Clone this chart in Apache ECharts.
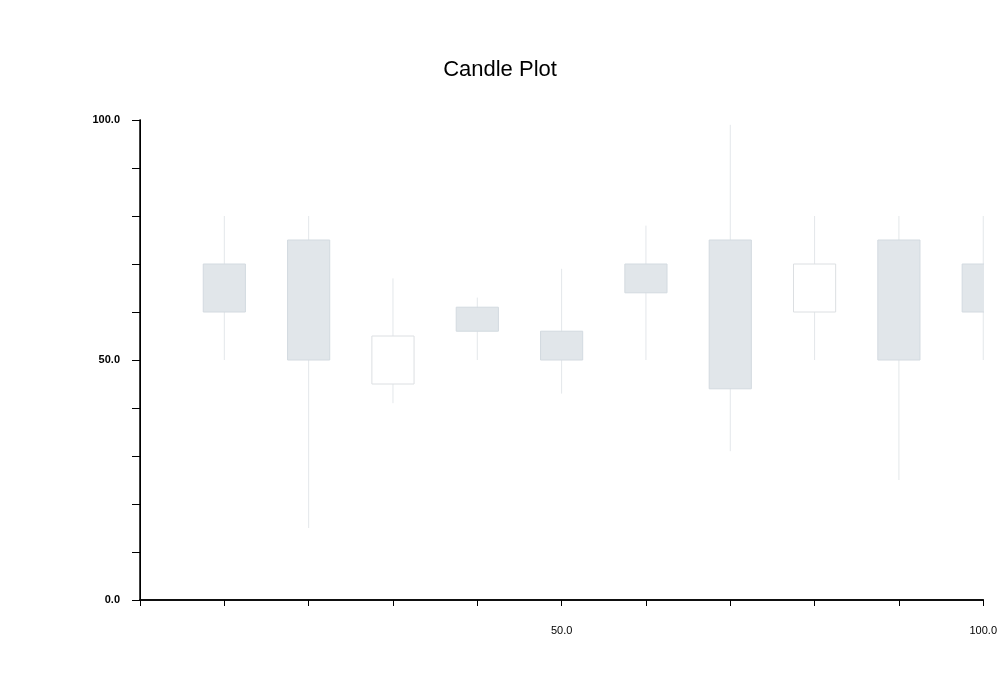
<!DOCTYPE html>
<html>
<head>
<meta charset="utf-8">
<script src="https://cdn.jsdelivr.net/npm/echarts@6/dist/echarts.min.js"></script>
<style>html,body{margin:0;padding:0;background:#fff}#chart{width:1000px;height:700px}</style>
</head>
<body>
<div id="chart"></div>
<script>
// candle data: x, open, close, low, high
let xs    = [10, 20, 30, 40, 50, 60, 70, 80, 90, 100]
let opens = [60, 50, 55, 56, 50, 64, 44, 70, 50, 60]
let closes= [70, 75, 45, 61, 56, 70, 75, 60, 75, 70]
let lows  = [50, 15, 41, 50, 43, 50, 31, 50, 25, 50]
let highs = [80, 80, 67, 63, 69, 78, 99, 80, 80, 80]

let data = []
for (let i = 0; i < xs.length; i++) {
  data.push([xs[i], opens[i], closes[i], lows[i], highs[i]])
}

let myChart = echarts.init(document.getElementById('chart'))
let font = 'Liberation Sans, Arial, sans-serif'
let options = {
  animation: false,
  title: {
    text: 'Candle Plot',
    left: 'center',
    top: 54,
    textStyle: {fontFamily: font, fontSize: 22, fontWeight: 'normal', color: '#000'}
  },
  grid: {left: 140, right: 15, top: 120, bottom: 100},
  xAxis: [{
    type: 'value', min: 0, max: 100, interval: 10, offset: 5,
    splitLine: {show: false},
    axisLine: {lineStyle: {color: '#000', width: 1.5}},
    axisTick: {length: 6, lineStyle: {color: '#000'}},
    axisLabel: {
      fontFamily: font, fontSize: 11, color: '#000', margin: 20,
      formatter: v => (v > 0 && v % 50 === 0) ? v.toFixed(1) : ''
    }
  }, {
    type: 'value', min: 0, max: 100, position: 'bottom', gridIndex: 0,
    splitLine: {show: false}, axisTick: {show: false}, axisLabel: {show: false},
    axisLine: {show: true, lineStyle: {color: '#000', width: 1.5}}
  }],
  yAxis: [{
    type: 'value', min: 0, max: 100, interval: 10, offset: 6,
    splitLine: {show: false},
    axisLine: {lineStyle: {color: '#000', width: 1}},
    axisTick: {length: 8, lineStyle: {color: '#000'}},
    axisLabel: {
      fontFamily: font, fontSize: 11, fontWeight: 'bold', color: '#000', margin: 14,
      formatter: v => v % 50 === 0 ? v.toFixed(1) : ''
    }
  }, {
    type: 'value', min: 0, max: 100, position: 'left',
    splitLine: {show: false}, axisTick: {show: false}, axisLabel: {show: false},
    axisLine: {show: true, lineStyle: {color: '#000', width: 1.5}}
  }],
  series: [{
    type: 'custom',
    clip: true,
    data: data,
    renderItem: function (params, api) {
      let x = api.value(0)
      let o = api.value(1), c = api.value(2)
      let lo = api.coord([x, api.value(3)])
      let hi = api.coord([x, api.value(4)])
      let p1 = api.coord([x - 2.5, Math.max(o, c)])
      let p2 = api.coord([x + 2.5, Math.min(o, c)])
      let up = c > o
      return {
        type: 'group',
        children: [{
          type: 'line',
          shape: {x1: lo[0], y1: lo[1], x2: hi[0], y2: hi[1]},
          style: {stroke: '#e3e7ea', lineWidth: 1}
        }, {
          type: 'rect',
          shape: {x: p1[0], y: p1[1], width: p2[0] - p1[0], height: p2[1] - p1[1]},
          style: {fill: up ? '#e1e6ea' : '#ffffff', stroke: up ? '#d3dae0' : '#dcdfe2', lineWidth: 1}
        }]
      }
    }
  }]
}
myChart.setOption(options)
</script>
</body>
</html>
